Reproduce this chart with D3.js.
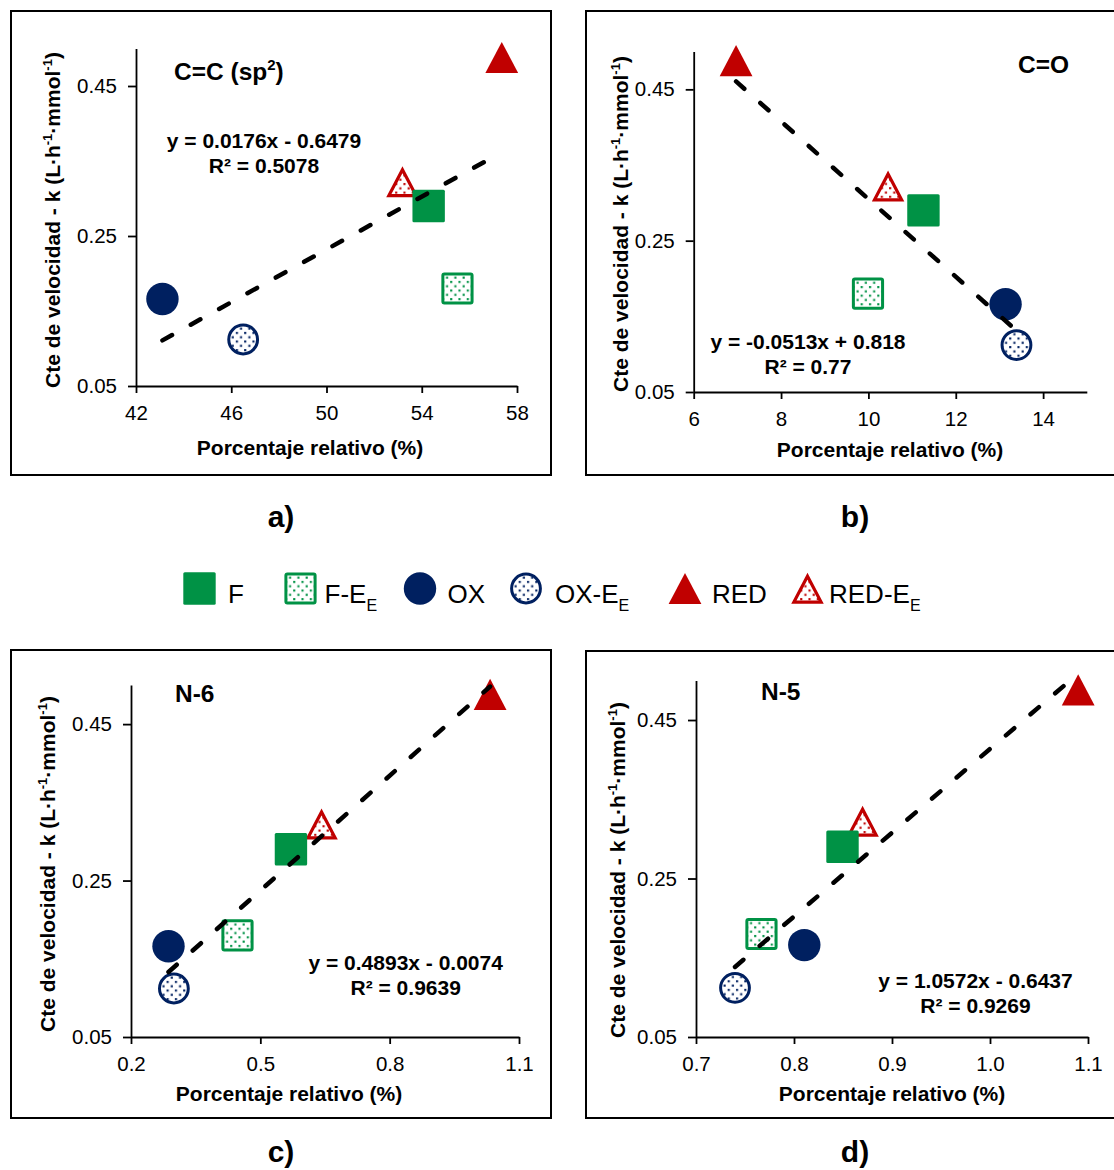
<!DOCTYPE html>
<html>
<head>
<meta charset="utf-8">
<script src="https://cdn.jsdelivr.net/npm/d3@7"></script>
<style>
  body { margin: 0; background: #fff; }
  svg { display: block; }
  text { font-family: "Liberation Sans", Arial, Helvetica, sans-serif; }
</style>
</head>
<body>
<svg id="chart" width="1114" height="1170"></svg>
<script>
// ---- data ---------------------------------------------------------------
const seriesLabel = ["F", "F-E", "OX", "OX-E", "RED", "RED-E"];
const seriesSub   = ["",  "E",   "",   "E",    "",    "E"];
// rate constant k (L·h-1·mmol-1), one per sample
const rateK = [0.290, 0.180, 0.166, 0.112, 0.488, 0.322];
// relative percentage of each surface group, one per sample
const pctCC = [54.29, 55.50, 43.11, 46.50, 57.36, 53.19];
const pctCO = [11.26, 9.99, 13.14, 13.39, 6.97, 10.45];
const pctN6 = [0.571, 0.447, 0.287, 0.2995, 1.033, 0.642];
const pctN5 = [0.8495, 0.7668, 0.8105, 0.7398, 1.090, 0.870];

// linear fits
const fitSlope     = [0.0176, -0.0513, 0.4893, 1.0572];
const fitIntercept = [-0.6479, 0.818, -0.0074, -0.6437];
const fitR2        = [0.5078, 0.77, 0.9639, 0.9269];

// axes
const xDomains = [[42, 58], [6, 15], [0.2, 1.1], [0.7, 1.1]];
const xTicks = [[42, 46, 50, 54, 58], [6, 8, 10, 12, 14], [0.2, 0.5, 0.8, 1.1], [0.7, 0.8, 0.9, 1.0, 1.1]];
const xTickFormat = ["d", "d", ".1f", ".1f"];
const yDomain = [0.05, 0.5];
const yTicks = [0.05, 0.25, 0.45];

const panelTitle = [
  [{ t: "C=C (sp" }, { t: "2", sup: true }, { t: ")" }],
  [{ t: "C=O" }],
  [{ t: "N-6" }],
  [{ t: "N-5" }]
];
const panelTag = ["a)", "b)", "c)", "d)"];
const xAxisTitle = "Porcentaje relativo (%)";

// ---- styling / layout -----------------------------------------------------
const seriesShape  = ["square", "square", "circle", "circle", "triangle", "triangle"];
const seriesColor  = ["#009245", "#009245", "#002060", "#002060", "#C00000", "#C00000"];
const seriesDotted = [false, true, false, true, false, true];

const panelData = [pctCC, pctCO, pctN6, pctN5];
const layout = [
  { frame: [11, 11, 540, 464],  px: [136, 517],    py: [386, 48.5],
    title: [174, 80],  eq: [264, 148],   ylab: [60, 220],  xlab: [310, 455],  tag: [281, 527] },
  { frame: [586, 11, 540, 464], px: [693.7, 1086.8], py: [392, 51.5],
    title: [1018, 73], eq: [808, 349],   ylab: [628, 224], xlab: [890, 457],  tag: [855, 527] },
  { frame: [11, 650, 540, 468], px: [131, 519],    py: [1037, 685],
    title: [175, 702], eq: [405.7, 970], ylab: [55, 864],  xlab: [289, 1101], tag: [281, 1162] },
  { frame: [586, 651, 540, 467], px: [696, 1088],  py: [1037, 680.4],
    title: [761, 700], eq: [975.5, 988], ylab: [625, 870], xlab: [892, 1101], tag: [855, 1162] }
];
const legendX = [199.5, 300.5, 420, 526, 685, 807.5];
const legendTextX = [228, 324.5, 447.5, 555, 712, 829];
const legendY = 588.5;

const svg = d3.select("#chart");
const defs = svg.append("defs");

// dotted fills for the "-E" samples
Array.from(new Set(seriesColor)).forEach(c => {
  const p = defs.append("pattern")
    .attr("id", "dots" + c.slice(1))
    .attr("patternUnits", "userSpaceOnUse")
    .attr("width", 8.3).attr("height", 8.6);
  p.append("rect").attr("width", 8.3).attr("height", 8.6).attr("fill", "#fff");
  p.append("rect").attr("x", 1).attr("y", 1).attr("width", 2.1).attr("height", 2.1).attr("fill", c);
  p.append("rect").attr("x", 5.15).attr("y", 5.3).attr("width", 2.1).attr("height", 2.1).attr("fill", c);
});

function drawMarker(g, i) {
  const shape = seriesShape[i], color = seriesColor[i], dotted = seriesDotted[i];
  const fill = dotted ? `url(#dots${color.slice(1)})` : color;
  const sw = dotted ? 3 : 0;
  if (shape === "square") {
    const h = dotted ? 14.6 : 16.2;
    g.append("rect").attr("x", -h).attr("y", -h).attr("width", 2 * h).attr("height", 2 * h)
      .attr("rx", 1.5).attr("fill", fill)
      .attr("stroke", dotted ? color : "none").attr("stroke-width", sw);
  } else if (shape === "circle") {
    g.append("circle").attr("r", dotted ? 14.4 : 16.2).attr("fill", fill)
      .attr("stroke", dotted ? color : "none").attr("stroke-width", sw);
  } else {
    const pts = dotted
      ? [[0, -12.2], [13.6, 13.6], [-13.6, 13.6]]
      : [[0, -15.6], [16.4, 15.6], [-16.4, 15.6]];
    g.append("path").attr("d", "M" + pts.map(p => p.join(",")).join("L") + "Z")
      .attr("fill", fill)
      .attr("stroke", dotted ? color : "none").attr("stroke-width", dotted ? 3.2 : 0)
      .attr("stroke-linejoin", "miter");
  }
}

const fontStack = '"Liberation Sans", Arial, Helvetica, sans-serif';

layout.forEach((L, pi) => {
  const g = svg.append("g");
  const xs = panelData[pi];

  // outer frame
  g.append("rect").attr("x", L.frame[0]).attr("y", L.frame[1])
    .attr("width", L.frame[2]).attr("height", L.frame[3])
    .attr("fill", "none").attr("stroke", "#000").attr("stroke-width", 2);

  const x = d3.scaleLinear().domain(xDomains[pi]).range(L.px);
  const y = d3.scaleLinear().domain(yDomain).range(L.py);

  // y axis
  const ya = g.append("g").attr("transform", `translate(${L.px[0]},0)`)
    .call(d3.axisLeft(y).tickValues(yTicks).tickFormat(d3.format(".2f"))
      .tickSize(8).tickSizeOuter(0).tickPadding(11));
  // x axis
  const xa = g.append("g").attr("transform", `translate(0,${L.py[0]})`)
    .call(d3.axisBottom(x).tickValues(xTicks[pi]).tickFormat(d3.format(xTickFormat[pi]))
      .tickSize(7).tickSizeOuter(0).tickPadding(12));
  [ya, xa].forEach(a => {
    a.attr("font-size", 20.5).attr("font-family", fontStack).attr("color", "#000");
    a.selectAll("path.domain").attr("stroke-width", 1.8);
    a.selectAll(".tick line").attr("stroke-width", 1.8);
  });

  // markers (drawn last-to-first so filled squares sit on top)
  d3.range(seriesLabel.length).reverse().forEach(i => {
    const m = g.append("g").attr("transform", `translate(${x(xs[i])},${y(rateK[i])})`);
    drawMarker(m, i);
  });

  // trend line over the data range
  const xmin = d3.min(xs), xmax = d3.max(xs);
  const f = v => fitSlope[pi] * v + fitIntercept[pi];
  g.append("line")
    .attr("x1", x(xmin)).attr("y1", y(f(xmin)))
    .attr("x2", x(xmax)).attr("y2", y(f(xmax)))
    .attr("stroke", "#000").attr("stroke-width", 4.5)
    .attr("stroke-linecap", "round").attr("stroke-dasharray", "11 21.4");

  // equation
  const sgn = fitIntercept[pi] < 0 ? "-" : "+";
  const eqText = `y = ${fitSlope[pi]}x ${sgn} ${Math.abs(fitIntercept[pi])}`;
  g.append("text").attr("x", L.eq[0]).attr("y", L.eq[1])
    .attr("text-anchor", "middle").attr("font-size", 21).attr("font-weight", "bold")
    .text(eqText);
  g.append("text").attr("x", L.eq[0]).attr("y", L.eq[1] + 24.5)
    .attr("text-anchor", "middle").attr("font-size", 21).attr("font-weight", "bold")
    .text(`R² = ${fitR2[pi]}`);

  // panel title
  const tt = g.append("text").attr("x", L.title[0]).attr("y", L.title[1])
    .attr("font-size", 24.5).attr("font-weight", "bold");
  panelTitle[pi].forEach(part => {
    const s = tt.append("tspan").text(part.t);
    if (part.sup) s.attr("font-size", 15).attr("dy", -10);
    else if (tt.selectAll("tspan").size() > 1) s.attr("dy", 10);
  });

  // y axis title
  const yl = g.append("text")
    .attr("transform", `translate(${L.ylab[0]},${L.ylab[1]}) rotate(-90)`)
    .attr("text-anchor", "middle").attr("font-size", 21).attr("font-weight", "bold");
  yl.append("tspan").text("Cte de velocidad - k (L·h");
  yl.append("tspan").text("-1").attr("font-size", 13).attr("dy", -8);
  yl.append("tspan").text("·mmol").attr("dy", 8);
  yl.append("tspan").text("-1").attr("font-size", 13).attr("dy", -8);
  yl.append("tspan").text(")").attr("dy", 8);

  // x axis title
  g.append("text").attr("x", L.xlab[0]).attr("y", L.xlab[1])
    .attr("text-anchor", "middle").attr("font-size", 21).attr("font-weight", "bold")
    .text(xAxisTitle);

  // panel tag
  g.append("text").attr("x", L.tag[0]).attr("y", L.tag[1])
    .attr("text-anchor", "middle").attr("font-size", 30).attr("font-weight", "bold")
    .text(panelTag[pi]);
});

// legend
const lg = svg.append("g");
seriesLabel.forEach((name, i) => {
  const m = lg.append("g").attr("transform", `translate(${legendX[i]},${legendY})`);
  drawMarker(m, i);
  const t = lg.append("text").attr("x", legendTextX[i]).attr("y", 603).attr("font-size", 26);
  t.append("tspan").text(name);
  if (seriesSub[i]) t.append("tspan").text(seriesSub[i]).attr("font-size", 16).attr("dy", 7.5);
});
</script>
</body>
</html>
